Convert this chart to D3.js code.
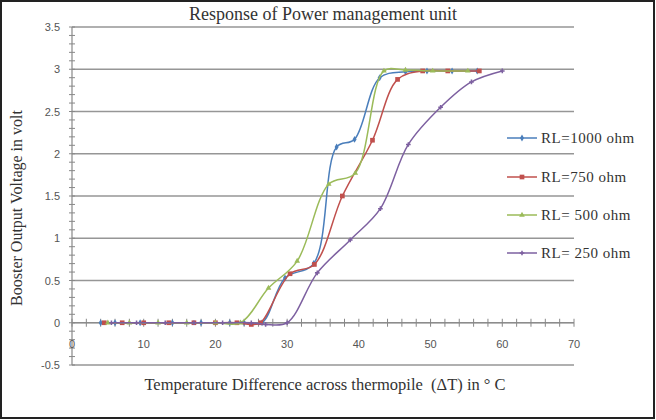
<!DOCTYPE html>
<html>
<head>
<meta charset="utf-8">
<script src="https://cdn.jsdelivr.net/npm/d3@7"></script>
<style>
  html, body { margin: 0; padding: 0; background: #fff; }
  svg { display: block; }
</style>
</head>
<body>
<svg id="chart" width="656" height="420"></svg>
<script>
// ---- data ----
const seriesNames = ["RL=1000 ohm", "RL=750 ohm", "RL= 500 ohm", "RL= 250 ohm"];
const seriesColors = ["#4a7ebb", "#c0504d", "#9bbb59", "#7d60a0"];
const rl1000 = [[4,0],[6,0],[9.5,0],[14,0],[18,0],[22,0],[24,0],[26.5,0],[29.7,0.53],[33.7,0.7],[36.9,2.08],[39.4,2.17],[42.9,2.9],[46.5,2.97],[49.5,2.98],[53,2.98],[56.5,2.98]];
const rl750  = [[4.5,0],[7,0],[10,0],[13.5,0],[17,0],[20,0],[23,0],[25,-0.02],[26.3,0],[30.4,0.58],[33.8,0.69],[37.7,1.5],[41.9,2.16],[45.4,2.88],[48.9,2.98],[52.4,2.98],[56.8,2.98]];
const rl500  = [[5,0],[8,0],[12,0],[16,0],[20,0],[23.5,0],[27.4,0.41],[31.4,0.73],[35.8,1.64],[39.5,1.77],[43.5,2.98],[46.5,2.99],[50.3,2.98],[55.2,2.98]];
const rl250  = [[5.5,0],[9,0],[13,0],[17,0],[21,0],[25,0],[27,-0.02],[30,0],[34.2,0.59],[38.8,0.98],[43,1.35],[46.9,2.11],[51.4,2.55],[55.7,2.85],[60,2.98]];
const seriesData = [rl1000, rl750, rl500, rl250];
const xTicks = [0,10,20,30,40,50,60,70];
const yTicks = [-0.5,0,0.5,1,1.5,2,2.5,3,3.5];
const yTickLabels = ["-0.5","0","0.5","1","1.5","2","2.5","3","3.5"];

const titleText = "Response of Power management unit";
const xTitle = "Temperature Difference across thermopile  (\u0394T) in \u00b0 C";
const yTitle = "Booster Output Voltage in volt";

// ---- layout ----
const svg = d3.select("#chart");
const x = d3.scaleLinear().domain([0,70]).range([72,574]);
const y = d3.scaleLinear().domain([-0.5,3.5]).range([365,27]);

// frame
svg.append("rect").attr("x",1).attr("y",1).attr("width",653).attr("height",417)
  .attr("fill","#fff").attr("stroke","#222").attr("stroke-width",2);

// gridlines
svg.append("g").selectAll("line").data(yTicks).join("line")
  .attr("x1", x(0)).attr("x2", x(70))
  .attr("y1", d=>y(d)).attr("y2", d=>y(d))
  .attr("stroke","#969696").attr("stroke-width",1.6);

// y axis line + ticks
const yAxisG = svg.append("g");
yAxisG.append("line").attr("x1",x(0)).attr("x2",x(0)).attr("y1",y(-0.5)).attr("y2",y(3.5))
  .attr("stroke","#888").attr("stroke-width",1.2);
const yMinor = d3.range(-5, 36).map(i => i/10);
yAxisG.selectAll("line.t").data(yMinor).join("line").attr("class","t")
  .attr("x1", x(0)-3).attr("x2", x(0)+3)
  .attr("y1", d=>y(d)).attr("y2", d=>y(d))
  .attr("stroke","#888").attr("stroke-width",1);
yAxisG.selectAll("text").data(yTicks).join("text")
  .attr("x", x(0)-12).attr("y", d=>y(d)+4)
  .attr("text-anchor","end")
  .attr("font-family","Liberation Sans, Arial, sans-serif").attr("font-size",11)
  .attr("fill","#555")
  .text((d,i)=>yTickLabels[i]);

// x axis at y=0
const xAxisG = svg.append("g");
xAxisG.append("line").attr("x1",x(0)).attr("x2",x(70)).attr("y1",y(0)).attr("y2",y(0))
  .attr("stroke","#888").attr("stroke-width",1.2);
const xMinor = d3.range(0, 71, 2);
xAxisG.selectAll("line.t").data(xMinor).join("line").attr("class","t")
  .attr("x1", d=>x(d)).attr("x2", d=>x(d))
  .attr("y1", y(0)-4).attr("y2", y(0)+4)
  .attr("stroke","#888").attr("stroke-width",1);
xAxisG.selectAll("text").data(xTicks).join("text")
  .attr("x", d=>x(d)).attr("y", y(0)+25)
  .attr("text-anchor","middle")
  .attr("font-family","Liberation Sans, Arial, sans-serif").attr("font-size",11)
  .attr("fill","#555")
  .text(d=>d);

// series lines
const line = d3.line().x(d=>x(d[0])).y(d=>y(d[1])).curve(d3.curveCatmullRom.alpha(0.5));
const symbols = [d3.symbolDiamond, d3.symbolSquare, d3.symbolTriangle, d3.symbolCross];
const symSizes = [14, 22, 14, 12];
seriesData.forEach((data, i) => {
  const g = svg.append("g");
  g.append("path").datum(data).attr("d", line)
    .attr("fill","none").attr("stroke", seriesColors[i]).attr("stroke-width",1.5);
  g.selectAll("path.m").data(data).join("path").attr("class","m")
    .attr("transform", d=>`translate(${x(d[0])},${y(d[1])})`)
    .attr("d", d3.symbol().type(symbols[i]).size(symSizes[i]))
    .attr("fill", seriesColors[i]);
});

// legend
const legendY = [138, 177, 215, 253];
const lg = svg.append("g");
seriesNames.forEach((name, i) => {
  const g = lg.append("g").attr("transform", `translate(0,${legendY[i]})`);
  g.append("rect").attr("x",505).attr("y",-10).attr("width",146).attr("height",20).attr("fill","#fff");
  g.append("line").attr("x1",507).attr("x2",537).attr("y1",0).attr("y2",0)
    .attr("stroke", seriesColors[i]).attr("stroke-width",1.5);
  g.append("path").attr("transform","translate(522,0)")
    .attr("d", d3.symbol().type(symbols[i]).size(symSizes[i])).attr("fill", seriesColors[i]);
  g.append("text").attr("x",541).attr("y",5)
    .attr("font-family","Liberation Serif, Times New Roman, serif").attr("font-size",15)
    .attr("letter-spacing",0.5)
    .attr("fill","#333").text(name);
});

// titles
svg.append("text").attr("x",323).attr("y",20).attr("text-anchor","middle")
  .attr("font-family","Liberation Serif, Times New Roman, serif").attr("font-size",18)
  .attr("fill","#333").text(titleText);
svg.append("text").attr("x",325).attr("y",390).attr("text-anchor","middle")
  .attr("xml:space","preserve").style("white-space","pre")
  .attr("font-family","Liberation Serif, Times New Roman, serif").attr("font-size",16.5)
  .attr("fill","#333").text(xTitle);
svg.append("text").attr("transform","translate(22,208) rotate(-90)").attr("text-anchor","middle")
  .attr("font-family","Liberation Serif, Times New Roman, serif").attr("font-size",16)
  .attr("fill","#333").text(yTitle);
</script>
</body>
</html>
